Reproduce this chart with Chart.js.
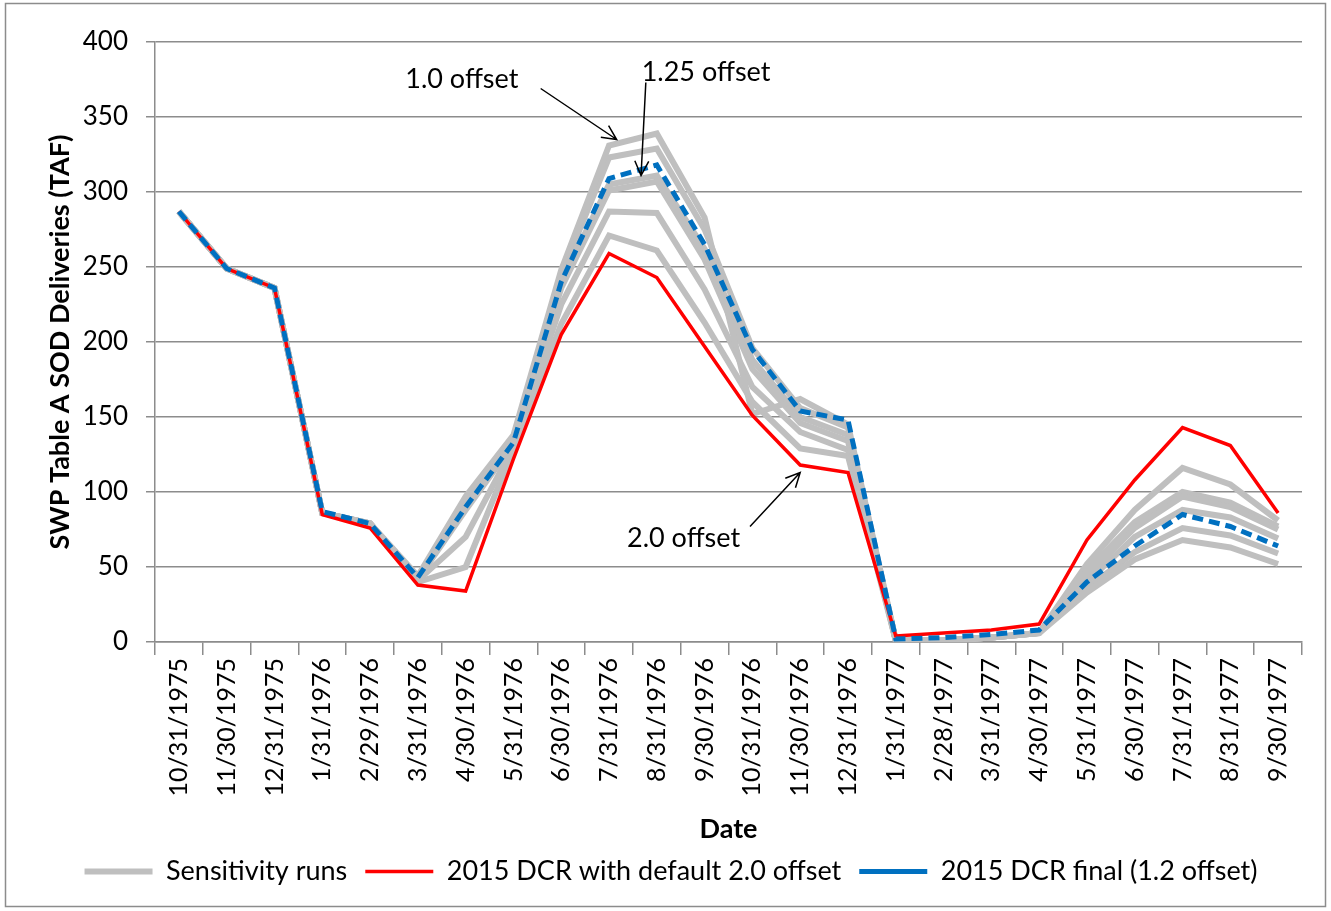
<!DOCTYPE html>
<html>
<head>
<meta charset="utf-8">
<title>SWP Table A SOD Deliveries</title>
<script src="https://cdn.jsdelivr.net/npm/chart.js@4/dist/chart.umd.min.js"></script>
<style>
  html, body { margin: 0; padding: 0; background: #fff; }
  #wrap { position: relative; width: 1331px; height: 911px; }
</style>
</head>
<body>
<div id="wrap"><canvas id="chart" width="1331" height="911"></canvas></div>
<script>
// Monthly end dates, Oct 1975 - Sep 1977
const dates = [
  '10/31/1975', '11/30/1975', '12/31/1975', '1/31/1976', '2/29/1976', '3/31/1976',
  '4/30/1976', '5/31/1976', '6/30/1976', '7/31/1976', '8/31/1976', '9/30/1976',
  '10/31/1976', '11/30/1976', '12/31/1976', '1/31/1977', '2/28/1977', '3/31/1977',
  '4/30/1977', '5/31/1977', '6/30/1977', '7/31/1977', '8/31/1977', '9/30/1977'
];

// Sensitivity runs (grey); run1 = 1.0 offset
const run1 = [287, 249, 236, 86, 79, 44, 97, 138, 248, 331, 339, 283, 152, 162, 145, 1, 1, 3, 6, 33, 55, 68, 63, 52];
const run2 = [287, 249, 236, 86, 79, 43, 93, 136, 245, 323, 329, 275, 196, 156, 143, 1, 1, 3, 6, 36, 60, 76, 71, 59];
const run3 = [287, 249, 236, 86, 79, 42, 90, 134, 240, 305, 311, 262, 188, 150, 138, 1, 1, 3, 6, 40, 70, 88, 83, 69];
const run4 = [287, 249, 236, 86, 79, 42, 88, 132, 236, 301, 307, 255, 182, 146, 134, 1, 1, 3, 6, 44, 76, 97, 90, 75];
const run5 = [287, 249, 236, 86, 79, 41, 70, 130, 225, 287, 286, 235, 170, 140, 128, 1, 1, 3, 6, 48, 80, 100, 93, 77];
const run6 = [287, 249, 236, 86, 79, 40, 50, 128, 212, 271, 261, 213, 160, 129, 124, 1, 1, 3, 6, 52, 88, 116, 105, 81];
const sensitivityRuns = [run1, run2, run3, run4, run5, run6];

// 2015 DCR with default 2.0 offset (red)
const dcrDefault = [287, 249, 236, 85, 76, 38, 34, 122, 205, 259, 243, 197, 151, 118, 113, 4, 6, 8, 12, 68, 108, 143, 131, 86];

// 2015 DCR final, 1.2 offset (blue dashed)
const dcrFinal = [287, 249, 236, 87, 79, 43, 90, 133, 240, 309, 318, 265, 195, 154, 148, 2, 3, 5, 8, 40, 64, 85, 77, 64];

const yTicks = [0, 50, 100, 150, 200, 250, 300, 350, 400];

// Callouts, in data space: [category index, value]
const notes = [
  { text: '1.0 offset',  at: [5.92, 375],  from: [7.57, 369], to: [9.16, 335] },
  { text: '1.25 offset', at: [11.03, 380], from: [9.77, 373], to: [9.67, 311] },
  { text: '2.0 offset',  at: [10.56, 69],  from: [11.95, 77], to: [13.0, 113] }
];

const FONT = 'Lato, "Open Sans", sans-serif';

const datasets = sensitivityRuns.map((run, i) => ({
  label: i === 0 ? 'Sensitivity runs' : 'run' + (i + 1),
  data: run,
  borderColor: '#bfbfbf',
  backgroundColor: '#bfbfbf',
  borderWidth: 6,
  pointRadius: 0,
  tension: 0,
  order: 2
}));
datasets.push({
  label: '2015 DCR with default 2.0 offset',
  data: dcrDefault,
  borderColor: '#ff0000',
  backgroundColor: '#ff0000',
  borderWidth: 3.5,
  pointRadius: 0,
  tension: 0,
  order: 1
});
datasets.push({
  label: '2015 DCR final (1.2 offset)',
  data: dcrFinal,
  borderColor: '#0070c0',
  backgroundColor: '#0070c0',
  borderWidth: 5,
  borderDash: [11, 6],
  pointRadius: 0,
  tension: 0,
  order: 0
});

// frame round the whole picture + callout arrows
const extras = {
  id: 'extras',
  beforeDraw(chart) {
    const ctx = chart.ctx;
    ctx.save();
    ctx.fillStyle = '#fff';
    ctx.fillRect(0, 0, chart.width, chart.height);
    ctx.strokeStyle = '#8c8c8c';
    ctx.lineWidth = 1.5;
    ctx.strokeRect(5.5, 3.5, chart.width - 11, chart.height - 8);
    ctx.restore();
  },
  afterDraw(chart) {
    const ctx = chart.ctx;
    const xs = chart.scales.x, ys = chart.scales.y;
    const px = p => [xs.getPixelForValue(p[0]), ys.getPixelForValue(p[1])];
    ctx.save();
    ctx.fillStyle = '#000';
    ctx.strokeStyle = '#000';
    ctx.lineWidth = 1.5;
    ctx.font = '27px ' + FONT;
    ctx.textAlign = 'center';
    ctx.textBaseline = 'middle';
    notes.forEach(n => {
      const [tx, ty] = px(n.at);
      ctx.fillText(n.text, tx, ty);
      const [x1, y1] = px(n.from);
      const [x2, y2] = px(n.to);
      ctx.beginPath();
      ctx.moveTo(x1, y1);
      ctx.lineTo(x2, y2);
      const a = Math.atan2(y2 - y1, x2 - x1);
      const len = 16, spread = 0.45;
      ctx.moveTo(x2 - len * Math.cos(a - spread), y2 - len * Math.sin(a - spread));
      ctx.lineTo(x2, y2);
      ctx.lineTo(x2 - len * Math.cos(a + spread), y2 - len * Math.sin(a + spread));
      ctx.stroke();
    });
    ctx.restore();
  }
};

const ctx = document.getElementById('chart').getContext('2d');
new Chart(ctx, {
  type: 'line',
  data: { labels: dates, datasets: datasets },
  plugins: [extras],
  options: {
    responsive: false,
    animation: false,
    layout: { padding: { left: 40, right: 29, top: 42, bottom: 16 } },
    plugins: {
      tooltip: { enabled: false },
      legend: {
        position: 'bottom',
        labels: {
          font: { family: FONT, size: 27 },
          color: '#000',
          usePointStyle: true,
          pointStyle: 'line',
          pointStyleWidth: 68,
          boxHeight: 27,
          padding: 18,
          filter: item => !/^run\d/.test(item.text),
          sort: (a, b) => a.datasetIndex - b.datasetIndex
        }
      }
    },
    scales: {
      x: {
        offset: true,
        afterFit: s => { s.height = 198; },
        grid: {
          offset: true,
          drawOnChartArea: false,
          drawTicks: true,
          tickLength: 13,
          color: '#8c8c8c',
          lineWidth: 1.5
        },
        border: { color: '#8c8c8c', width: 1.5 },
        ticks: {
          autoSkip: false,
          minRotation: 90,
          maxRotation: 90,
          padding: 3,
          color: '#000',
          font: { family: FONT, size: 25 }
        },
        title: {
          display: true,
          text: 'Date',
          color: '#000',
          font: { family: FONT, size: 27, weight: 'bold' },
          padding: { top: 0, bottom: -5 }
        }
      },
      y: {
        min: 0,
        max: 400,
        afterFit: s => { s.width = 115; },
        afterBuildTicks: s => { s.ticks = yTicks.map(v => ({ value: v })); },
        grid: {
          color: '#8c8c8c',
          lineWidth: 1.5,
          tickLength: 9
        },
        border: { color: '#8c8c8c', width: 1.5 },
        ticks: {
          padding: 18,
          color: '#000',
          font: { family: FONT, size: 26 }
        },
        title: {
          display: true,
          text: 'SWP Table A SOD Deliveries (TAF)',
          color: '#000',
          font: { family: FONT, size: 27, weight: 'bold' },
          padding: { top: 4, bottom: 0 }
        }
      }
    }
  }
});
</script>
</body>
</html>
